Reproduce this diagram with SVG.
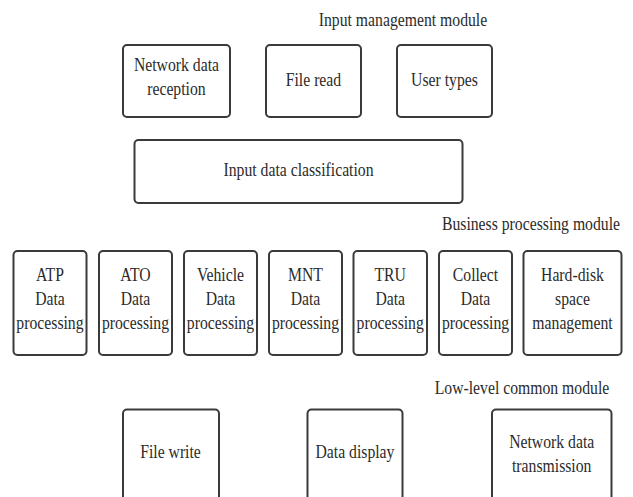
<svg xmlns="http://www.w3.org/2000/svg" width="633" height="497" viewBox="0 0 633 497">
<style>
rect{fill:#fff;stroke:#3a3a3a;stroke-width:2}
text{font-family:"Liberation Serif","Times New Roman",serif;font-size:18.5px;fill:#2b2b2b;text-anchor:middle;transform:scale(0.85,1)}
</style>
<rect x="0" y="0" width="633" height="497" style="stroke:none"/>
<g id="labels">
<text x="474.1" y="26">Input management module</text>
<text x="624.7" y="230">Business processing module</text>
<text x="614.1" y="394">Low-level common module</text>
</g>
<g id="n-netrecv"><rect x="123" y="45" width="107" height="72" rx="4"/><text x="207.6" y="71">Network data</text><text x="207.6" y="95">reception</text></g>
<g id="n-fileread"><rect x="266" y="45" width="95" height="72" rx="4"/><text x="368.8" y="86">File read</text></g>
<g id="n-usertypes"><rect x="397" y="45" width="95" height="72" rx="4"/><text x="522.9" y="86">User types</text></g>
<g id="n-classify"><rect x="134.5" y="140" width="328" height="63" rx="4"/><text x="351.2" y="176">Input data classification</text></g>
<g id="n-atp"><rect x="13.5" y="251" width="73" height="104" rx="4"/><text x="58.8" y="281">ATP</text><text x="58.8" y="305">Data</text><text x="58.8" y="329">processing</text></g>
<g id="n-ato"><rect x="99" y="251" width="73" height="104" rx="4"/><text x="159.4" y="281">ATO</text><text x="159.4" y="305">Data</text><text x="159.4" y="329">processing</text></g>
<g id="n-vehicle"><rect x="184" y="251" width="73" height="104" rx="4"/><text x="259.4" y="281">Vehicle</text><text x="259.4" y="305">Data</text><text x="259.4" y="329">processing</text></g>
<g id="n-mnt"><rect x="269" y="251" width="73" height="104" rx="4"/><text x="359.4" y="281">MNT</text><text x="359.4" y="305">Data</text><text x="359.4" y="329">processing</text></g>
<g id="n-tru"><rect x="353.5" y="251" width="73.5" height="104" rx="4"/><text x="459.1" y="281">TRU</text><text x="459.1" y="305">Data</text><text x="459.1" y="329">processing</text></g>
<g id="n-collect"><rect x="439" y="251" width="73" height="104" rx="4"/><text x="559.4" y="281">Collect</text><text x="559.4" y="305">Data</text><text x="559.4" y="329">processing</text></g>
<g id="n-harddisk"><rect x="523.5" y="251" width="98" height="104" rx="4"/><text x="673.5" y="281">Hard-disk</text><text x="673.5" y="305">space</text><text x="673.5" y="329">management</text></g>
<g id="n-filewrite"><rect x="123" y="409.5" width="96" height="100" rx="4"/><text x="200.6" y="458">File write</text></g>
<g id="n-display"><rect x="307.5" y="409.5" width="95" height="100" rx="4"/><text x="417.6" y="458">Data display</text></g>
<g id="n-nettx"><rect x="492" y="409.5" width="119.5" height="100" rx="4"/><text x="649.1" y="448">Network data</text><text x="649.1" y="472">transmission</text></g>
<g id="connectors"></g>
</svg>
